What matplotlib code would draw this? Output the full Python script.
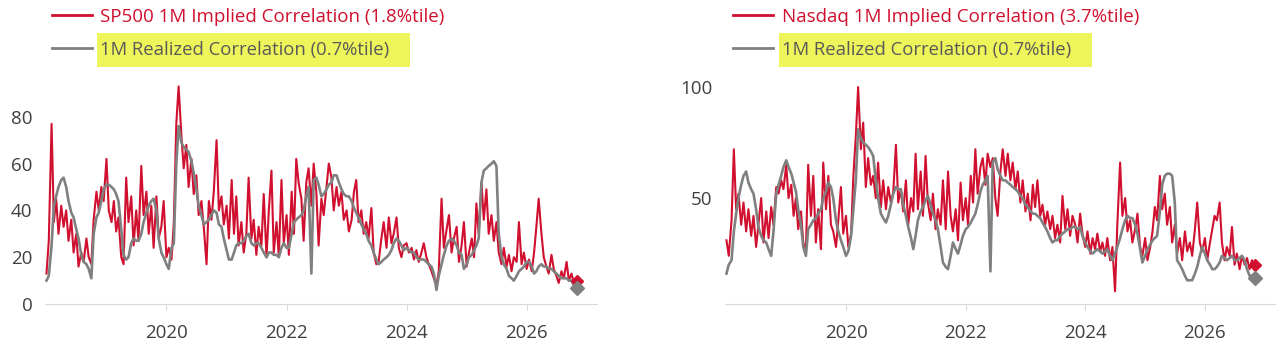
import pandas as pd
import matplotlib
matplotlib.use("Agg")
import matplotlib.pyplot as plt
from matplotlib.lines import Line2D
from matplotlib.patches import Rectangle

plt.rcParams["font.family"] = ["Open Sans", "DejaVu Sans"]

# semi-monthly observations, Jan 2018 -> Nov 2026
dates = pd.date_range("2018-01-01", periods=213, freq="SMS")

spx_implied = [
    13, 27, 77, 35, 45, 30, 42, 33, 40, 27, 36, 22, 30, 16, 22, 18, 28, 20, 17, 36, 48, 40, 50, 44,
    62, 40, 35, 44, 31, 37, 20, 17, 54, 35, 46, 25, 40, 27, 59, 38, 48, 30, 42, 24, 46, 28, 33, 44,
    20, 24, 19, 35, 77, 93, 72, 58, 68, 50, 62, 47, 55, 38, 44, 33, 17, 44, 36, 48, 70, 40, 46, 34,
    42, 28, 53, 30, 46, 25, 35, 22, 30, 54, 28, 36, 21, 33, 25, 47, 20, 40, 57, 22, 35, 20, 53, 26,
    38, 21, 48, 30, 62, 52, 45, 27, 52, 58, 42, 60, 48, 25, 45, 38, 50, 60, 54, 40, 50, 42, 48, 36,
    40, 31, 36, 48, 53, 35, 40, 30, 35, 28, 41, 22, 17, 18, 28, 35, 24, 37, 26, 30, 37, 24, 20, 25,
    26, 22, 24, 19, 23, 18, 22, 26, 20, 17, 14, 11, 8, 14, 45, 24, 32, 38, 22, 28, 33, 18, 25, 35,
    16, 22, 28, 20, 43, 30, 52, 36, 49, 30, 38, 27, 35, 22, 17, 24, 16, 21, 14, 20, 18, 35, 17, 22,
    15, 19, 14, 22, 33, 45, 30, 20, 16, 13, 21, 15, 12, 9, 14, 11, 18, 10, 13, 9, 10,
]
spx_realized = [
    10, 12, 25, 42, 46, 50, 53, 54, 50, 44, 39, 37, 32, 28, 21, 18, 17, 15, 11, 30, 37, 39, 44, 49,
    51, 51, 50, 49, 47, 44, 32, 21, 19, 20, 26, 28, 27, 27, 30, 35, 39, 42, 44, 45, 40, 28, 22, 20,
    17, 15, 24, 26, 60, 76, 69, 67, 66, 65, 61, 56, 49, 42, 38, 34, 35, 36, 38, 40, 39, 34, 33, 28,
    23, 19, 19, 22, 25, 26, 26, 27, 29, 30, 26, 25, 26, 26, 24, 22, 20, 22, 22, 21, 21, 20, 24, 26,
    24, 24, 30, 35, 36, 37, 38, 40, 46, 50, 13, 53, 54, 51, 46, 47, 49, 51, 52, 55, 55, 52, 49, 47,
    46, 46, 44, 41, 39, 37, 34, 32, 30, 27, 25, 22, 19, 17, 18, 19, 20, 21, 23, 26, 28, 27, 25, 23,
    24, 23, 22, 22, 20, 19, 19, 19, 18, 17, 16, 13, 6, 12, 17, 21, 25, 27, 28, 27, 25, 22, 21, 15,
    17, 20, 21, 23, 25, 28, 52, 57, 58, 59, 60, 61, 59, 30, 20, 17, 15, 12, 11, 10, 12, 14, 15, 16,
    18, 18, 16, 13, 14, 16, 17, 16, 16, 15, 15, 14, 13, 12, 11, 11, 11, 10, 10, 8, 7,
]
ndx_implied = [
    31, 24, 40, 72, 45, 52, 38, 48, 35, 45, 33, 42, 28, 38, 50, 30, 44, 32, 46, 38, 55, 52, 58, 54,
    65, 50, 56, 42, 50, 36, 44, 30, 26, 65, 42, 60, 30, 45, 27, 66, 45, 60, 38, 35, 28, 40, 55, 34,
    42, 28, 34, 60, 78, 100, 72, 84, 55, 68, 56, 60, 50, 66, 46, 58, 45, 55, 48, 52, 74, 48, 54, 44,
    58, 38, 50, 44, 70, 45, 62, 42, 69, 48, 40, 52, 36, 45, 38, 58, 36, 62, 42, 35, 45, 31, 57, 40,
    50, 38, 60, 48, 72, 52, 64, 68, 56, 70, 64, 68, 50, 42, 62, 72, 60, 70, 58, 66, 54, 62, 48, 58,
    44, 52, 40, 56, 46, 58, 42, 47, 38, 44, 36, 42, 32, 38, 30, 51, 36, 45, 33, 42, 38, 30, 43, 34,
    28, 35, 25, 32, 27, 34, 26, 30, 24, 32, 22, 28, 8, 38, 66, 42, 50, 35, 40, 30, 36, 43, 28, 24,
    32, 22, 28, 35, 46, 40, 60, 45, 52, 38, 46, 30, 38, 25, 32, 22, 35, 26, 30, 24, 36, 48, 30, 26,
    32, 22, 30, 36, 42, 40, 48, 30, 22, 28, 24, 37, 20, 25, 18, 24, 20, 23, 18, 22, 20,
]
ndx_realized = [
    16, 20, 22, 35, 43, 50, 56, 60, 62, 57, 54, 52, 45, 37, 33, 31, 30, 27, 24, 35, 52, 56, 60, 64,
    67, 64, 61, 57, 53, 45, 38, 28, 24, 36, 38, 40, 41, 43, 45, 50, 53, 57, 55, 50, 40, 35, 31, 28,
    24, 26, 33, 45, 58, 81, 77, 75, 74, 73, 71, 69, 58, 50, 43, 41, 39, 42, 47, 52, 55, 54, 54, 47,
    42, 37, 32, 27, 33, 40, 44, 46, 49, 51, 47, 43, 40, 36, 28, 21, 19, 18, 24, 30, 27, 25, 29, 33,
    36, 37, 39, 41, 43, 47, 53, 56, 58, 60, 17, 66, 68, 63, 60, 58, 58, 57, 56, 55, 54, 53, 51, 50,
    47, 46, 44, 43, 43, 42, 41, 39, 37, 35, 32, 30, 31, 31, 33, 34, 35, 36, 36, 37, 37, 36, 37, 33,
    30, 28, 26, 25, 26, 27, 26, 25, 26, 27, 24, 22, 25, 28, 32, 36, 40, 42, 41, 41, 38, 34, 27, 21,
    24, 27, 29, 31, 32, 33, 44, 56, 60, 61, 61, 60, 48, 22, 20, 18, 15, 13, 13, 13, 16, 19, 24, 28,
    25, 22, 20, 18, 18, 19, 21, 24, 23, 22, 23, 24, 22, 22, 23, 24, 22, 18, 15, 15, 14,
]

year_ticks = ["2020", "2022", "2024", "2026"]
spx_label = "SP500 1M Implied Correlation (1.8%tile)"
ndx_label = "Nasdaq 1M Implied Correlation (3.7%tile)"
realized_label = "1M Realized Correlation (0.7%tile)"

RED = "#d0102e"
GREY = "#808080"
W, H = 1280, 345


def fx(px):
    return px / W


def fy(py):
    return 1 - py / H


def draw_panel(ax, implied, realized, ylim, yticks):
    ax.plot(dates, implied, color=RED, lw=1.5, zorder=2)
    ax.plot(dates, realized, color=GREY, lw=1.9, zorder=3)
    ax.plot(dates[-1:], implied[-1:], marker="D", color=RED, ms=6, zorder=4)
    ax.plot(dates[-1:], realized[-1:], marker="D", color=GREY, ms=7, zorder=5)
    ax.set_ylim(*ylim)
    ax.set_yticks(yticks)
    ax.set_xlim(pd.Timestamp("2017-12-23"), pd.Timestamp("2027-03-05"))
    ax.set_xticks([pd.Timestamp(y + "-01-01") for y in year_ticks])
    ax.set_xticklabels(year_ticks)
    for s in ["top", "right", "left"]:
        ax.spines[s].set_visible(False)
    ax.spines["bottom"].set_color("#d9d9d9")
    ax.tick_params(axis="x", colors="#d9d9d9", length=4.5, labelcolor="#404040",
                   labelsize=13.5, pad=10)
    ax.tick_params(axis="y", length=0, labelcolor="#404040", labelsize=13.5, pad=9)


def draw_legend(fig, x_line, x_text, top_label):
    fig.add_artist(Line2D([fx(x_line), fx(x_line + 40)], [fy(15), fy(15)], color=RED, lw=2))
    fig.text(fx(x_text), fy(17), top_label, color=RED, fontsize=13.5, va="center")
    fig.add_artist(Rectangle((fx(x_text - 3), fy(67)), fx(313), 34 / H,
                             color="#eef55a", lw=0, zorder=0))
    fig.add_artist(Line2D([fx(x_line), fx(x_line + 40)], [fy(48), fy(48)], color=GREY, lw=2))
    fig.text(fx(x_text), fy(50), realized_label, color="#595959", fontsize=13.3, va="center")


fig = plt.figure(figsize=(12.8, 3.45), dpi=100)

ax1 = fig.add_axes([fx(45), fy(304), fx(552), 234 / H])
draw_panel(ax1, spx_implied, spx_realized, (0, 100), [0, 20, 40, 60, 80])

ax2 = fig.add_axes([fx(725), fy(304), fx(550), 234 / H])
draw_panel(ax2, ndx_implied, ndx_realized, (2.3, 107.7), [50, 100])

draw_legend(fig, 52, 100, spx_label)
draw_legend(fig, 733, 782, ndx_label)

fig.savefig("out.png", dpi=100, facecolor="white")
